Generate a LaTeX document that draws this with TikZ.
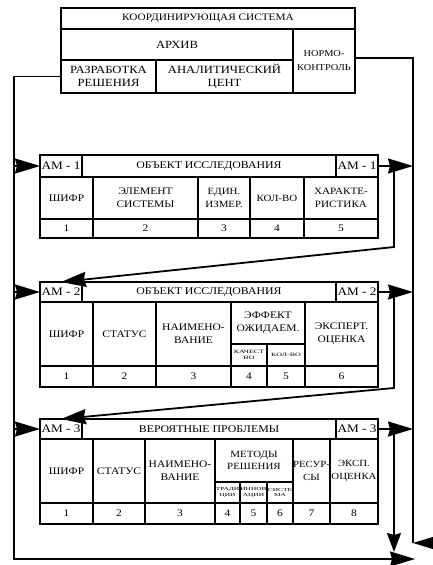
\documentclass[tikz,border=0pt]{standalone}
\usepackage{fontspec}
\setmainfont{Liberation Serif}[FakeStretch=1.15]
\newfontfamily\widefont{Liberation Serif}[FakeStretch=1.6]
\usetikzlibrary{arrows.meta}
\tikzset{
  cell/.style={draw, rectangle, line width=1.6pt, inner sep=0pt, outer sep=0pt, align=center},
  fs/.style n args={2}{font=\fontsize{#1}{#2}\selectfont},
  tiny/.style={font=\widefont\fontsize{5}{5.5}\selectfont},
  conn/.style={line width=1.8pt},
  arr/.style={line width=1.8pt, -{Stealth[length=25pt,width=15pt,inset=2pt]}},
  sarr/.style={line width=1.8pt, -{Stealth[length=19pt,width=14pt,inset=2pt]}},
}
% #1 options, #2 name, #3 x1, #4 y1, #5 x2, #6 y2, #7 text
\newcommand\cellbox[7][]{%
  \node[cell,#1,minimum width={(#5-#3)*1pt},minimum height={(#6-#4)*1pt}] (#2) at ({(#3+#5)/2},{(#4+#6)/2}) {#7};}
\begin{document}
\begin{tikzpicture}[x=1pt,y=-1pt]
\useasboundingbox (0,0) rectangle (432,565);
% ---------- top block ----------
\cellbox[fs={9.8}{11}]{koord}{61}{8}{355}{29}{КООРДИНИРУЮЩАЯ СИСТЕМА}
\cellbox[fs={11}{12}]{arch}{61}{29}{293}{60}{АРХИВ}
\cellbox[fs={9}{14}]{norm}{293}{29}{355}{93}{НОРМО-\\КОНТРОЛЬ}
\cellbox[fs={11}{13.5}]{razr}{61}{60}{156}{93}{РАЗРАБОТКА\\РЕШЕНИЯ}
\cellbox[fs={11}{13.5}]{anal}{156}{60}{293}{93}{АНАЛИТИЧЕСКИЙ\\ЦЕНТ}
% ---------- AM-1 ----------
\cellbox[fs={11.5}{12}]{am1l}{40}{155}{82}{177}{АМ - 1}
\cellbox[fs={10.3}{12}]{am1t}{82}{155}{336}{177}{ОБЪЕКТ ИССЛЕДОВАНИЯ}
\cellbox[fs={11.5}{12}]{am1r}{336}{155}{378}{177}{АМ - 1}
\cellbox[fs={10}{13}]{a1c1}{40}{177}{93}{219}{ШИФР}
\cellbox[fs={10}{13}]{a1c2}{93}{177}{198}{219}{ЭЛЕМЕНТ\\СИСТЕМЫ}
\cellbox[fs={9.5}{13}]{a1c3}{198}{177}{250}{219}{ЕДИН.\\ИЗМЕР.}
\cellbox[fs={9.5}{13}]{a1c4}{250}{177}{304}{219}{КОЛ-ВО}
\cellbox[fs={9.7}{13}]{a1c5}{304}{177}{378}{219}{ХАРАКТЕ-\\РИСТИКА}
\cellbox[fs={10}{12}]{a1n1}{40}{219}{93}{238}{1}
\cellbox[fs={10}{12}]{a1n2}{93}{219}{198}{238}{2}
\cellbox[fs={10}{12}]{a1n3}{198}{219}{250}{238}{3}
\cellbox[fs={10}{12}]{a1n4}{250}{219}{304}{238}{4}
\cellbox[fs={10}{12}]{a1n5}{304}{219}{378}{238}{5}
% ---------- AM-2 ----------
\cellbox[fs={11.5}{12}]{am2l}{40}{282}{82}{302}{АМ - 2}
\cellbox[fs={10.3}{12}]{am2t}{82}{282}{336}{302}{ОБЪЕКТ ИССЛЕДОВАНИЯ}
\cellbox[fs={11.5}{12}]{am2r}{336}{282}{378}{302}{АМ - 2}
\cellbox[fs={10}{13}]{a2c1}{40}{302}{93}{366}{ШИФР}
\cellbox[fs={10}{13}]{a2c2}{93}{302}{156}{366}{СТАТУС}
\cellbox[fs={10}{13}]{a2c3}{156}{302}{231}{366}{НАИМЕНО-\\ВАНИЕ}
\cellbox[fs={10}{13}]{a2c4}{231}{302}{305}{344}{ЭФФЕКТ\\ОЖИДАЕМ.}
\cellbox[tiny]{a2c4a}{231}{344}{267}{366}{КАЧЕСТ\\ВО}
\cellbox[tiny]{a2c4b}{267}{344}{305}{366}{КОЛ-ВО}
\cellbox[fs={10}{13}]{a2c6}{305}{302}{378}{366}{ЭКСПЕРТ.\\ОЦЕНКА}
\cellbox[fs={10}{12}]{a2n1}{40}{366}{93}{387}{1}
\cellbox[fs={10}{12}]{a2n2}{93}{366}{156}{387}{2}
\cellbox[fs={10}{12}]{a2n3}{156}{366}{231}{387}{3}
\cellbox[fs={10}{12}]{a2n4}{231}{366}{267}{387}{4}
\cellbox[fs={10}{12}]{a2n5}{267}{366}{305}{387}{5}
\cellbox[fs={10}{12}]{a2n6}{305}{366}{378}{387}{6}
% ---------- AM-3 ----------
\cellbox[fs={11.5}{12}]{am3l}{40}{419}{82}{439}{АМ - 3}
\cellbox[fs={10.3}{12}]{am3t}{82}{419}{336}{439}{ВЕРОЯТНЫЕ ПРОБЛЕМЫ}
\cellbox[fs={11.5}{12}]{am3r}{336}{419}{378}{439}{АМ - 3}
\cellbox[fs={10}{13}]{a3c1}{40}{439}{93}{503}{ШИФР}
\cellbox[fs={10}{13}]{a3c2}{93}{439}{145}{503}{СТАТУС}
\cellbox[fs={10}{13}]{a3c3}{145}{439}{215}{503}{НАИМЕНО-\\ВАНИЕ}
\cellbox[fs={9.5}{12.5}]{a3c4}{215}{439}{293}{482}{МЕТОДЫ\\РЕШЕНИЯ}
\cellbox[tiny,font=\widefont\fontsize{4.6}{5.2}\selectfont]{a3c4a}{215}{482}{240}{503}{ТРАДИ\\ЦИИ}
\cellbox[tiny,font=\widefont\fontsize{4.6}{5.2}\selectfont]{a3c4b}{240}{482}{267}{503}{ИННОВ\\АЦИИ}
\cellbox[tiny,font=\widefont\fontsize{4.6}{5.2}\selectfont]{a3c4c}{267}{482}{293}{503}{СИСТЕ\\МА}
\cellbox[fs={9.4}{13}]{a3c7}{293}{439}{330}{503}{РЕСУР-\\СЫ}
\cellbox[fs={9.4}{13}]{a3c8}{330}{439}{378}{503}{ЭКСП.\\ОЦЕНКА}
\cellbox[fs={10}{12}]{a3n1}{40}{503}{93}{524}{1}
\cellbox[fs={10}{12}]{a3n2}{93}{503}{145}{524}{2}
\cellbox[fs={10}{12}]{a3n3}{145}{503}{215}{524}{3}
\cellbox[fs={10}{12}]{a3n4}{215}{503}{240}{524}{4}
\cellbox[fs={10}{12}]{a3n5}{240}{503}{267}{524}{5}
\cellbox[fs={10}{12}]{a3n6}{267}{503}{293}{524}{6}
\cellbox[fs={10}{12}]{a3n7}{293}{503}{330}{524}{7}
\cellbox[fs={10}{12}]{a3n8}{330}{503}{378}{524}{8}
% ---------- connector coordinates ----------
\coordinate (LB) at (14,559);   % left bus, bottom corner
\coordinate (BE) at (415,559);  % bottom arrow tip
\coordinate (RB) at (413,543);  % right bus, bottom
\coordinate (RE) at (432,543);  % right edge
\coordinate (V1) at (394,247);
\coordinate (V2) at (394,388);
\coordinate (V3) at (394,552);
% left bus
\draw[arr] (razr.west) -| (LB) -- (BE);
\draw[arr] (am1l.west -| LB) -- (am1l.west);
\draw[arr] (am2l.west -| LB) -- (am2l.west);
\draw[arr] (am3l.west -| LB) -- (am3l.west);
% right bus
\draw[conn] ([yshift=3pt]norm.east) -| (RB);
\draw[arr] (RE) -- (RB);
\draw[arr] (am1r.east) -- (am1r.east -| RB);
\draw[arr] (am2r.east) -- (am2r.east -| RB);
\draw[arr] (am3r.east) -- (am3r.east -| RB);
% transitions between forms
\draw[arr] (am1r.east -| V1) -- (V1) -- (am2l.north);
\draw[arr] (am2r.east -| V2) -- (V2) -- (am3l.north);
\draw[sarr] (am3r.east -| V3) -- (V3);
\end{tikzpicture}
\end{document}
